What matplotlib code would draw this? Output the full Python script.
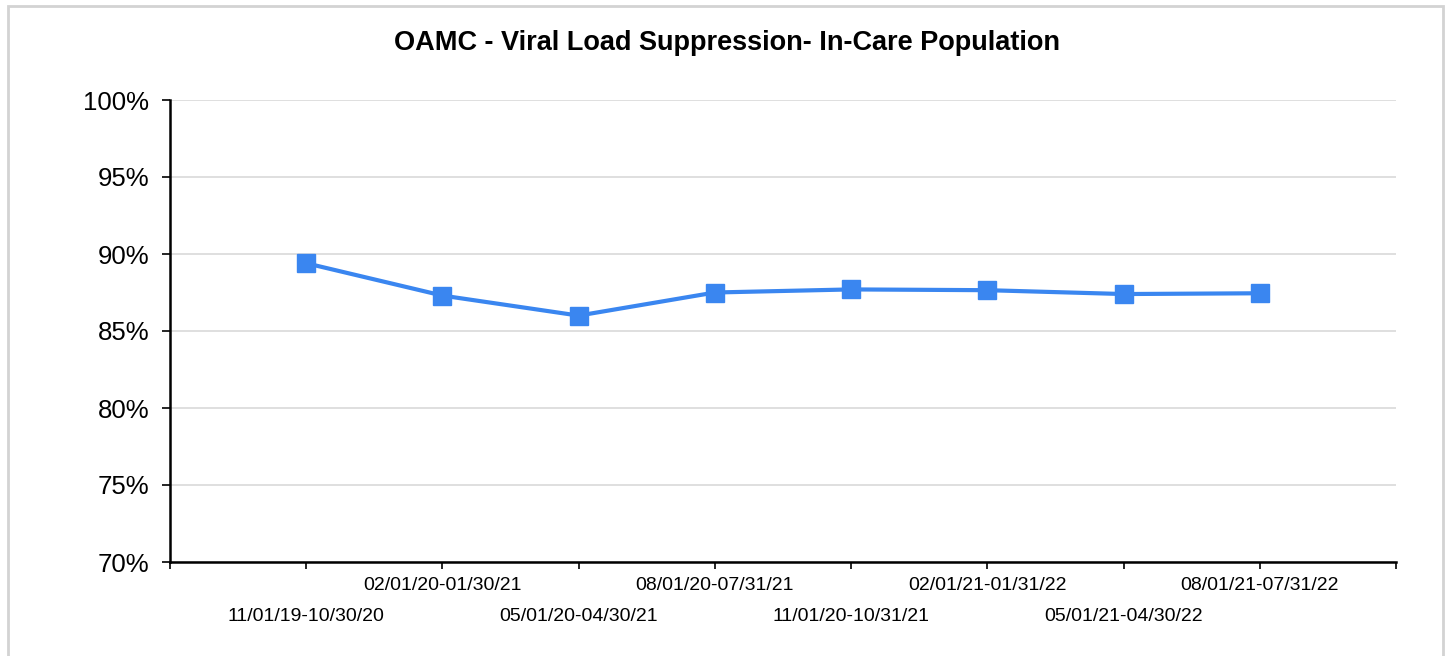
import matplotlib.pyplot as plt
from matplotlib.patches import Rectangle
from matplotlib.ticker import FuncFormatter

plt.rcParams['font.family'] = ['Liberation Sans', 'DejaVu Sans']

periods = ['11/01/19-10/30/20', '02/01/20-01/30/21', '05/01/20-04/30/21',
           '08/01/20-07/31/21', '11/01/20-10/31/21', '02/01/21-01/31/22',
           '05/01/21-04/30/22', '08/01/21-07/31/22']
suppression = [89.4, 87.3, 86.0, 87.5, 87.7, 87.65, 87.4, 87.45]

fig = plt.figure(figsize=(14.53, 6.56), dpi=100)
fig.set_facecolor('white')
ax = fig.add_axes([170 / 1453, 1 - 562 / 656, (1396 - 170) / 1453, (562 - 100) / 656])

# light border round the whole chart
fig.patches.append(Rectangle((8 / 1453, -0.05), (1443 - 8) / 1453, 1 - 6 / 656 + 0.05,
                             transform=fig.transFigure, fill=False,
                             edgecolor='#d3d3d3', lw=2, zorder=0))

x = list(range(len(periods)))
ax.plot(x, suppression, color='#3a86f0', lw=3, marker='s', markersize=13,
        markerfacecolor='#3a86f0', markeredgecolor='#3a86f0', zorder=3)

ax.set_xlim(-1, len(periods))
ax.set_ylim(70, 100)
ax.set_yticks([70, 75, 80, 85, 90, 95, 100])
ax.yaxis.set_major_formatter(FuncFormatter(lambda v, p: f'{v:.0f}%'))
ax.grid(axis='y', color='#d9d9d9', lw=1.2, zorder=0)
ax.set_axisbelow(True)

# staggered category labels: odd ones in upper row, even ones in lower row
upper = [i for i in x if i % 2 == 1]
lower = [i for i in x if i % 2 == 0]
ax.set_xticks([-1] + upper + [len(periods)])
ax.set_xticklabels([''] + [periods[i] for i in upper] + [''])
ax.set_xticks(lower, minor=True)
ax.set_xticklabels([periods[i] for i in lower], minor=True)

ax.tick_params(axis='x', which='major', length=5, width=1.2, pad=6, labelsize=14)
ax.tick_params(axis='x', which='minor', length=5, width=1.2, pad=28, labelsize=14)
ax.tick_params(axis='y', length=6, width=1.2, pad=9, labelsize=18.5)

for side in ['top', 'right']:
    ax.spines[side].set_visible(False)
for side in ['left', 'bottom']:
    ax.spines[side].set_linewidth(1.8)
    ax.spines[side].set_color('black')

fig.text(0.5, 1 - 43 / 656, 'OAMC - Viral Load Suppression- In-Care Population',
         ha='center', va='center', fontsize=19.5, fontweight='bold')

plt.savefig('out.png', dpi=100, facecolor='white')
